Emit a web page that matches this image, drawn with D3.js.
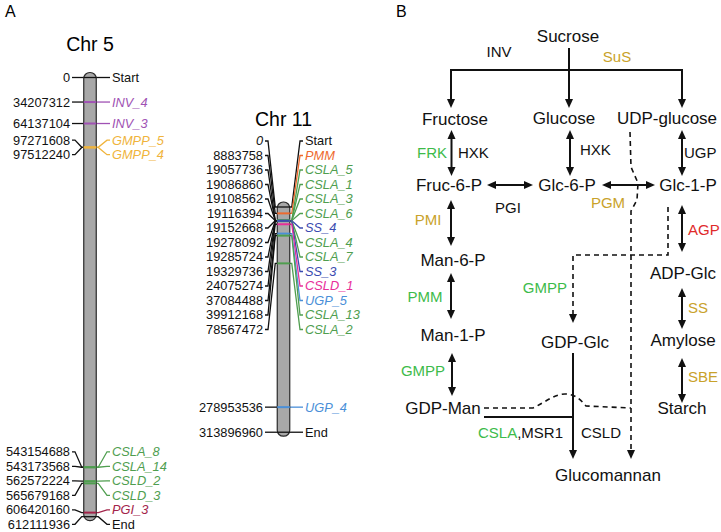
<!DOCTYPE html>
<html><head><meta charset="utf-8">
<script src="https://cdn.jsdelivr.net/npm/d3@7"></script>
<style>body{margin:0;background:#fff}svg{display:block}text{font-family:"Liberation Sans",Arial,sans-serif}</style>
</head><body><svg id="c" width="721" height="532"></svg>
<script>
// ---------------- DATA ----------------
const chr5Genes = ["Start","INV_4","INV_3","GMPP_5","GMPP_4","CSLA_8","CSLA_14","CSLD_2","CSLD_3","PGI_3","End"];
const chr5Pos = [0,34207312,64137104,97271608,97512240,543154688,543173568,562572224,565679168,606420160,612111936];
const chr5Length = 612111936;

const chr11Genes = ["Start","PMM","CSLA_5","CSLA_1","CSLA_3","CSLA_6","SS_4","CSLA_4","CSLA_7","SS_3","CSLD_1","UGP_5","CSLA_13","CSLA_2","UGP_4","End"];
const chr11Pos = [0,8883758,19057736,19086860,19108562,19116394,19152668,19278092,19285724,19329736,24075274,37084488,39912168,78567472,278953536,313896960];
const chr11Length = 313896960;

const metabolites = ["Sucrose","Fructose","Glucose","UDP-glucose","Fruc-6-P","Glc-6-P","Glc-1-P","Man-6-P","ADP-Glc","Man-1-P","GDP-Glc","Amylose","GDP-Man","Starch","Glucomannan"];
const enzymes = ["INV","SuS","FRK","HXK","HXK","UGP","PGI","PGM","PMI","AGP","PMM","GMPP","SS","GMPP","SBE","CSLD"];

// ---------------- STYLE / LAYOUT ----------------
const famColor = {Start:"#111",End:"#111",INV:"#a052b4",GMPP:"#f0b43c",CSLA:"#4f9e4f",CSLD:"#4f9e4f",PGI:"#a3244a",PMM:"#ee6a2e",SS:"#3b4bb0",UGP:"#4a8fd8"};
const geneOverride = {CSLD_1:"#e8309a"};
const colorOf = g => geneOverride[g] || famColor[g.split("_")[0]];
const GOLD="#c9a22a", GREEN="#3dbb4a", RED="#e02a2a", BLACK="#111";

const svg = d3.select("#c");
svg.append("rect").attr("width",721).attr("height",532).attr("fill","#fff");

// panel letters
svg.append("text").attr("x",5).attr("y",17).attr("font-size",16).text("A");
svg.append("text").attr("x",396).attr("y",17).attr("font-size",16).text("B");

const PX_PER_BP = 0.7175e-6;

function spread(ys, gap, minTop){
  let cl = ys.map((y,i)=>({i0:i,n:1,sum:y}));
  let merged=true;
  while(merged){
    merged=false;
    for(let k=0;k<cl.length-1;k++){
      const a=cl[k], b=cl[k+1];
      const aBot = a.sum/a.n + (a.n-1)*gap/2;
      const bTop = b.sum/b.n - (b.n-1)*gap/2;
      if(bTop < aBot + gap){
        cl.splice(k,2,{i0:a.i0,n:a.n+b.n,sum:a.sum+b.sum});
        merged=true;break;
      }
    }
  }
  const out=[];
  cl.forEach(c=>{const m=c.sum/c.n;for(let j=0;j<c.n;j++)out.push(m-(c.n-1)*gap/2+j*gap);});
  out[0]=Math.max(out[0],minTop);
  for(let i=1;i<out.length;i++) out[i]=Math.max(out[i],out[i-1]+gap);
  return out;
}

function drawChr(genes,pos,len,o){
  const g=svg.append("g");
  const y=d3.scaleLinear().domain([0,len]).range([o.top,o.top+len*PX_PER_BP]);
  const bw=12.5, bl=o.cx-bw/2, br=o.cx+bw/2;
  const ly=spread(pos.map(p=>y(p)),14.5,o.labelTop);
  const fs=12.8;
  // title
  g.append("text").attr("x",o.cx).attr("y",o.titleY).attr("text-anchor","middle").attr("font-size",19.5).text(o.title);
  // left connectors
  g.selectAll("path.l").data(pos).join("path").attr("fill","none").attr("stroke","#111").attr("stroke-width",1.3)
    .attr("d",(p,i)=>`M${o.numEnd+2},${ly[i]}H${o.numEnd+5}L${bl-2},${y(p)}H${bl+1}`);
  // right connectors
  g.selectAll("path.r").data(pos).join("path").attr("fill","none").attr("stroke",(p,i)=>colorOf(genes[i])).attr("stroke-width",1.3)
    .attr("d",(p,i)=>`M${br-1},${y(p)}H${br+2}L${o.labelX-5},${ly[i]}H${o.labelX-2}`);
  // bar
  g.append("rect").attr("x",bl).attr("y",y(0)-5).attr("width",bw).attr("height",y(len)-y(0)+9)
    .attr("rx",6).attr("fill","#a8a8a8").attr("stroke","#2a2a2a").attr("stroke-width",1.2);
  // bands
  g.selectAll("line.b").data(pos).join("line").attr("x1",bl).attr("x2",br).attr("y1",p=>y(p)).attr("y2",p=>y(p))
    .attr("stroke",(p,i)=>colorOf(genes[i])).attr("stroke-width",(p,i)=>(genes[i]==="Start"||genes[i]==="End")?1.3:2);
  // numbers
  g.selectAll("text.n").data(pos).join("text").attr("x",o.numEnd).attr("y",(p,i)=>ly[i]).attr("dy","0.35em")
    .attr("text-anchor","end").attr("font-size",fs).attr("fill","#111")
    .attr("font-style",(p,i)=>(o.zeroItalic&&i===0)?"italic":"normal").text(p=>String(p));
  // gene labels
  g.selectAll("text.g").data(genes).join("text").attr("x",o.labelX).attr("y",(d,i)=>ly[i]).attr("dy","0.35em")
    .attr("font-size",fs).attr("fill",d=>colorOf(d))
    .attr("font-style",d=>(d==="Start"||d==="End")?"normal":"italic").text(d=>d);
}

drawChr(chr5Genes,chr5Pos,chr5Length,{cx:90,top:77.5,numEnd:70,labelX:112,title:"Chr 5",titleY:51,labelTop:70});
drawChr(chr11Genes,chr11Pos,chr11Length,{cx:283.5,top:207,numEnd:263,labelX:305,title:"Chr 11",titleY:126,labelTop:141,zeroItalic:true});

// ---------------- PATHWAY (panel B) ----------------
const B=svg.append("g");
const metPos = {"Sucrose":[568,42],"Fructose":[455,125],"Glucose":[564,124],"UDP-glucose":[667,124],
 "Fruc-6-P":[449,191],"Glc-6-P":[567,191],"Glc-1-P":[688,191],"Man-6-P":[453,266],"ADP-Glc":[683,279],
 "Man-1-P":[453,341],"GDP-Glc":[575,348],"Amylose":[683,346],"GDP-Man":[443,414],"Starch":[682,414],"Glucomannan":[608,481]};
B.selectAll("text.m").data(metabolites).join("text").attr("x",d=>metPos[d][0]).attr("y",d=>metPos[d][1])
  .attr("text-anchor","middle").attr("font-size",17).attr("fill",BLACK).text(d=>d);

// enzyme labels: [x, y, anchor, color]
const enzPos = [[499,57,"middle",BLACK],[617,62,"middle",GOLD],[447,158,"end",GREEN],[458,158,"start",BLACK],
 [580,155,"start",BLACK],[684,158,"start",BLACK],[508,213,"middle",BLACK],[608,208,"middle",GOLD],
 [428,225,"middle",GOLD],[688,235,"start",RED],[425,302,"middle",GREEN],[567,293,"end",GREEN],
 [688,313,"start",GOLD],[423,376,"middle",GREEN],[688,382,"start",GOLD],[581,438,"start",BLACK]];
B.selectAll("text.e").data(enzymes).join("text").attr("x",(d,i)=>enzPos[i][0]).attr("y",(d,i)=>enzPos[i][1])
  .attr("text-anchor",(d,i)=>enzPos[i][2]).attr("fill",(d,i)=>enzPos[i][3]).attr("font-size",15).text(d=>d);
const cm=B.append("text").attr("x",563).attr("y",438).attr("text-anchor","end").attr("font-size",15);
cm.append("tspan").attr("fill",GREEN).text("CSLA");
cm.append("tspan").attr("fill",BLACK).text(",MSR1");

const HL=9, HW=4;
function head(x1,y1,x2,y2){
  const a=Math.atan2(y2-y1,x2-x1);
  const bx=x2-HL*Math.cos(a), by=y2-HL*Math.sin(a);
  const px=-Math.sin(a)*HW, py=Math.cos(a)*HW;
  B.append("path").attr("d",`M${x2},${y2}L${bx+px},${by+py}L${bx-px},${by-py}Z`).attr("fill",BLACK);
}
function arrow(x1,y1,x2,y2,both){
  const a=Math.atan2(y2-y1,x2-x1);
  const sx = both? x1+(HL-1)*Math.cos(a):x1, sy= both? y1+(HL-1)*Math.sin(a):y1;
  B.append("line").attr("x1",sx).attr("y1",sy).attr("x2",x2-(HL-1)*Math.cos(a)).attr("y2",y2-(HL-1)*Math.sin(a))
    .attr("stroke",BLACK).attr("stroke-width",2);
  head(x1,y1,x2,y2);
  if(both) head(x2,y2,x1,y1);
}
function line(pts,dash){
  B.append("path").attr("d",d3.line()(pts)).attr("fill","none").attr("stroke",BLACK)
   .attr("stroke-width",dash?1.6:2).attr("stroke-dasharray",dash?"5,4":null);
}
// sucrose split
line([[451,108-8],[451,70],[682,70],[682,108-8]]);
head(451,70,451,108); head(682,70,682,108);
arrow(569,48,569,108,false);
// double arrows
arrow(451.5,130,451.5,176,true);
arrow(570,130,570,176,true);
arrow(682,130,682,176,true);
arrow(487,185,533,185,true);
arrow(602,185,655,185,true);
arrow(451,200,451,246,true);
arrow(451,273,451,319,true);
arrow(452,353,452,396,true);
arrow(682,205,682,252,true);
arrow(682,288,682,329,true);
arrow(682,358,682,403,true);
// GDP-Glc to glucomannan
arrow(573,353,573,459,false);
line([[484,417],[573,417]]);
// dashed: UDP-glucose -> glucomannan
line([[630,132],[631,167],[638,183],[637,200],[631,211],[631,452]],true);
head(631,440,631,459);
// dashed: Glc-1-P -> GDP-Glc
line([[668,207],[668,255],[573,255],[573,316]],true);
head(573,300,573,323);
// dashed: GDP-Man -> with hump
B.append("path").attr("d","M484,408L533,408C547,401 555,394 565,394C575,394 580,399 586,406L631,408")
 .attr("fill","none").attr("stroke",BLACK).attr("stroke-width",1.6).attr("stroke-dasharray","5,4");
</script></body></html>
